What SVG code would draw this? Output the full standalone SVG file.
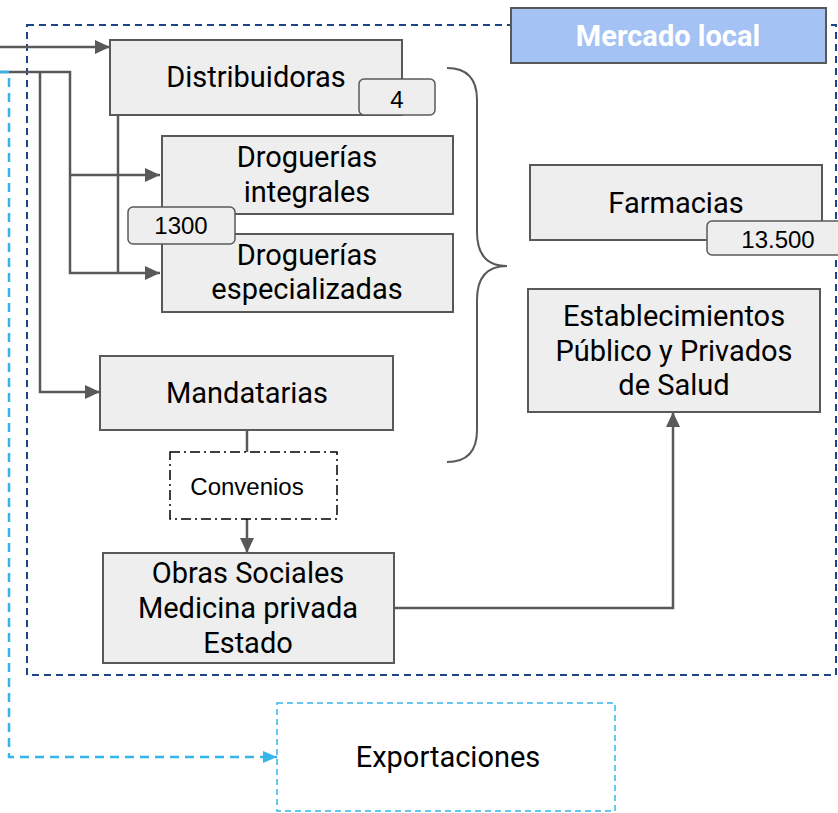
<svg xmlns="http://www.w3.org/2000/svg" width="838" height="813" viewBox="0 0 838 813">
<style>
.box{fill:#eeeeee;stroke:#595959;stroke-width:2}
.badge{fill:#eeeeee;stroke:#595959;stroke-width:1.5}
.lbl{font-family:Roboto,"Liberation Sans",sans-serif;font-size:29px;fill:#000;text-anchor:middle}
.small{font-family:"Liberation Sans",Arial,sans-serif;font-size:24px;fill:#000;text-anchor:middle}
.conn{fill:none;stroke:#595959;stroke-width:2.5}
.cyan{fill:none;stroke:#36b5ea;stroke-width:2.5;stroke-dasharray:9 6}
</style>
<defs>
<marker id="ah" markerUnits="userSpaceOnUse" markerWidth="16" markerHeight="16" viewBox="0 0 16 16" refX="15" refY="8" orient="auto">
<path d="M0,1 L15,8 L0,15 Z" fill="#595959"/>
</marker>
<marker id="ahc" markerUnits="userSpaceOnUse" markerWidth="16" markerHeight="16" viewBox="0 0 16 16" refX="14" refY="8" orient="auto">
<path d="M0,2 L14,8 L0,14 Z" fill="#36b5ea"/>
</marker>
</defs>

<g id="mercado-local-frame">
<rect x="27" y="25" width="809" height="650" fill="none" stroke="#1c4587" stroke-width="2" stroke-dasharray="7 5"/>
</g>

<g id="connectors">
<path class="conn" d="M0,47 H110" marker-end="url(#ah)"/>
<path class="conn" d="M0,72 H70 V273 H160" marker-end="url(#ah)"/>
<path class="conn" d="M70,175 H160" marker-end="url(#ah)"/>
<path class="conn" d="M118,115 V273"/>
<path class="conn" d="M40,72 V392 H100" marker-end="url(#ah)"/>
<path class="conn" d="M247,430 V452"/>
<path class="conn" d="M247,519 V553" marker-end="url(#ah)"/>
<path class="conn" d="M394,608 H673 V412" marker-end="url(#ah)"/>
<path class="cyan" d="M0,72 H9 V757 H277" marker-end="url(#ahc)"/>
<path d="M447,68 Q477,68 477,100 L477,232 Q477,266 507,266 Q477,266 477,300 L477,430 Q477,462 447,462" fill="none" stroke="#595959" stroke-width="2"/>
</g>

<g id="mercado-local">
<rect x="511" y="8" width="315" height="55" fill="#a4c2f4" stroke="#595959" stroke-width="2"/>
<text x="668" y="46" font-family="Roboto,'Liberation Sans',sans-serif" font-size="29" font-weight="bold" fill="#ffffff" text-anchor="middle">Mercado local</text>
</g>

<g id="distribuidoras">
<rect class="box" x="110" y="40" width="292" height="75"/>
<text class="lbl" x="256" y="87">Distribuidoras</text>
</g>
<g id="badge-4">
<rect class="badge" x="359" y="79" width="76" height="36" rx="5"/>
<text class="small" x="397" y="108">4</text>
</g>

<g id="droguerias-integrales">
<rect class="box" x="162" y="136" width="291" height="78"/>
<text class="lbl" x="307" y="167">Droguerías</text>
<text class="lbl" x="307" y="202">integrales</text>
</g>

<g id="droguerias-especializadas">
<rect class="box" x="162" y="234" width="291" height="78"/>
<text class="lbl" x="307" y="265">Droguerías</text>
<text class="lbl" x="307" y="299">especializadas</text>
</g>
<g id="badge-1300">
<rect class="badge" x="128" y="207" width="107" height="37" rx="5"/>
<text class="small" x="181" y="234">1300</text>
</g>

<g id="mandatarias">
<rect class="box" x="100" y="356" width="293" height="74"/>
<text class="lbl" x="247" y="403">Mandatarias</text>
</g>

<g id="convenios">
<rect x="170" y="452" width="167" height="67" fill="#ffffff" stroke="#000" stroke-width="1.5" stroke-dasharray="10 4 2 4"/>
<text x="247" y="495" font-family="'Liberation Sans',Arial,sans-serif" font-size="24" text-anchor="middle" fill="#000">Convenios</text>
</g>

<g id="obras-sociales">
<rect class="box" x="103" y="553" width="291" height="110"/>
<text class="lbl" x="248" y="583">Obras Sociales</text>
<text class="lbl" x="248" y="618">Medicina privada</text>
<text class="lbl" x="248" y="653">Estado</text>
</g>

<g id="farmacias">
<rect class="box" x="530" y="165" width="292" height="75"/>
<text class="lbl" x="676" y="213">Farmacias</text>
</g>
<g id="badge-13500">
<rect class="badge" x="707" y="221" width="150" height="34" rx="5"/>
<text class="small" x="778" y="248">13.500</text>
</g>

<g id="establecimientos">
<rect class="box" x="528" y="289" width="292" height="123"/>
<text class="lbl" x="674" y="326">Establecimientos</text>
<text class="lbl" x="674" y="361">Público y Privados</text>
<text class="lbl" x="674" y="395">de Salud</text>
</g>

<g id="exportaciones">
<rect x="277" y="703" width="338" height="108" fill="none" stroke="#36b5ea" stroke-width="1.5" stroke-dasharray="6 4"/>
<text class="lbl" x="448" y="767">Exportaciones</text>
</g>
</svg>
